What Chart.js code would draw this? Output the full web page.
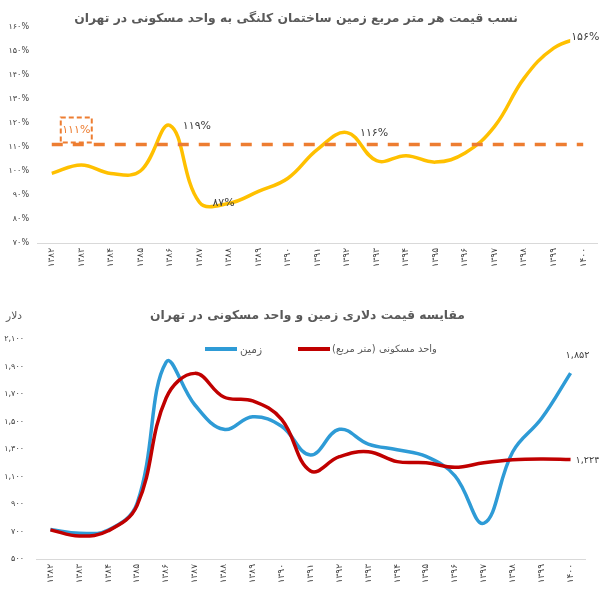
<!DOCTYPE html>
<html><head><meta charset="utf-8">
<script src="https://cdn.jsdelivr.net/npm/chart.js@4/dist/chart.umd.min.js"></script>
<style>
html,body{margin:0;padding:0;background:#fff;width:599px;height:595px;overflow:hidden;position:relative;}
canvas{position:absolute;left:0;}
#c1{top:0;}
#c2{top:290px;}
.t{position:absolute;white-space:nowrap;font-family:"DejaVu Sans";color:#595959;direction:rtl;line-height:1;transform:translate(-50%,-50%);}
.lg{position:absolute;height:4px;}
</style></head><body>
<canvas id="c1" width="599" height="290"></canvas>
<canvas id="c2" width="599" height="305"></canvas>
<div id="title1" class="t" style="font-weight:bold">نسب قیمت هر متر مربع زمین ساختمان کلنگی به واحد مسکونی در تهران</div>
<div id="title2" class="t" style="font-weight:bold">مقایسه قیمت دلاری زمین و واحد مسکونی در تهران</div>
<div id="unit" class="t">دلار</div>
<div id="lgl1" class="lg" style="background:#2E9BD6"></div>
<div id="lgt1" class="t">زمین</div>
<div id="lgl2" class="lg" style="background:#C00000"></div>
<div id="lgt2" class="t">واحد مسکونی (متر مربع)</div>
<script>
// ---------- data ----------
const years = ['۱۳۸۲','۱۳۸۳','۱۳۸۴','۱۳۸۵','۱۳۸۶','۱۳۸۷','۱۳۸۸','۱۳۸۹','۱۳۹۰','۱۳۹۱','۱۳۹۲','۱۳۹۳','۱۳۹۴','۱۳۹۵','۱۳۹۶','۱۳۹۷','۱۳۹۸','۱۳۹۹','۱۴۰۰'];
const ratio = [99, 102.5, 99, 100, 119, 87, 86.5, 91.5, 97, 109, 116, 104.3, 106.4, 103.7, 107.5, 118.6, 138.7, 151.2, 156];
const ratioBenchmark = 111;
const ratioLabelIdx = [4, 5, 10, 18];
const ratioTicks = [70, 80, 90, 100, 110, 120, 130, 140, 150, 160];
const land = [715, 688, 710, 905, 1930, 1620, 1443, 1535, 1465, 1256, 1443, 1336, 1295, 1246, 1105, 760, 1280, 1523, 1852];
const unitPrice = [712, 667, 705, 890, 1669, 1850, 1678, 1650, 1515, 1140, 1244, 1280, 1208, 1200, 1167, 1200, 1222, 1228, 1224];
const priceTicks = [500, 700, 900, 1100, 1300, 1500, 1700, 1900, 2100];
const landName = 'زمین';
const unitName = 'واحد مسکونی (متر مربع)';

// ---------- helpers ----------
const FA = '۰۱۲۳۴۵۶۷۸۹';
const toFa = s => String(s).replace(/\d/g, d => FA[d]);
const fmt = v => toFa(Number(v).toLocaleString('en-US'));
const FONT = '"DejaVu Sans"';
const mctx = document.createElement('canvas').getContext('2d');
function fitSize(text, w, weight) {
  mctx.font = (weight || 'normal') + ' 100px ' + FONT;
  return 100 * w / mctx.measureText(text).width;
}
function place(id, cx, cy, w, weight) {
  const el = document.getElementById(id);
  el.style.fontSize = fitSize(el.textContent, w, weight) + 'px';
  el.style.left = cx + 'px';
  el.style.top = cy + 'px';
}
place('title1', 296, 18, 444, 'bold');
place('title2', 307.5, 315, 315, 'bold');
place('unit', 14, 316, 16);
place('lgt1', 251, 349, 22);
place('lgt2', 384.5, 349, 105);
function line(id, x, y, w) { const e = document.getElementById(id); e.style.left = x + 'px'; e.style.top = (y - 2) + 'px'; e.style.width = w + 'px'; }
line('lgl1', 205, 349, 32);
line('lgl2', 298, 349, 32);

const xTickFont = {family: FONT, size: 9};
const yTickFont = {family: FONT, size: 8};
const labelFontSize = 11;
const numFontSize = fitSize('۱,۸۵۲', 24);

// ---------- top chart ----------
const overlay1 = {
  id: 'overlay1',
  afterDatasetsDraw(chart) {
    const {ctx, scales: {x, y}} = chart;
    const y0 = y.getPixelForValue(ratioBenchmark);
    ctx.save();
    ctx.strokeStyle = '#ED7D31';
    ctx.lineWidth = 3.5;
    ctx.setLineDash([11, 10]);
    ctx.beginPath();
    ctx.moveTo(x.getPixelForValue(0), y0);
    ctx.lineTo(x.getPixelForValue(years.length - 1), y0);
    ctx.stroke();
    // benchmark label box
    const bx = x.getPixelForValue(0) + 9, bw = 31, bh = 25, by = y0 - 2 - bh;
    ctx.lineWidth = 2;
    ctx.setLineDash([5, 3]);
    ctx.strokeRect(bx, by, bw, bh);
    ctx.setLineDash([]);
    ctx.fillStyle = '#ED7D31';
    ctx.font = labelFontSize + 'px ' + FONT;
    ctx.textAlign = 'center';
    ctx.textBaseline = 'middle';
    ctx.fillText(toFa(ratioBenchmark) + '%', bx + bw / 2, by + bh / 2);
    // data labels
    const meta = chart.getDatasetMeta(0);
    ctx.fillStyle = '#404040';
    ratioLabelIdx.forEach(i => {
      const p = meta.data[i];
      const txt = toFa(Math.round(ratio[i])) + '%';
      if (i === years.length - 1) {
        const w = ctx.measureText(txt).width;
        ctx.fillStyle = '#fff';
        ctx.fillRect(p.x - 13, p.y - 7, w + 2, 14);
        ctx.fillStyle = '#404040';
        ctx.textAlign = 'left';
        ctx.fillText(txt, p.x - 12, p.y + 1);
      } else {
        ctx.textAlign = 'left';
        ctx.fillText(txt, p.x + 13, p.y + 1);
      }
    });
    ctx.restore();
  }
};

new Chart(document.getElementById('c1'), {
  type: 'line',
  data: {labels: years, datasets: [{data: ratio, borderColor: '#FFC000', borderWidth: 3.5, tension: 0.4, pointRadius: 0, fill: false}]},
  options: {
    responsive: false, animation: false, devicePixelRatio: 1,
    layout: {padding: {top: 27, left: 0, right: 0, bottom: 0}},
    plugins: {legend: {display: false}, tooltip: {enabled: false}},
    scales: {
      x: {offset: true, grid: {display: false, drawTicks: false}, border: {color: '#d9d9d9', width: 1},
          ticks: {autoSkip: false, maxRotation: 90, minRotation: 90, padding: 5, color: '#404040', font: xTickFont},
          afterFit(s) { s.height = 47; }},
      y: {min: 70, max: 160, grid: {display: false, drawTicks: false}, border: {display: false},
          afterBuildTicks(s) { s.ticks = ratioTicks.map(v => ({value: v})); },
          ticks: {padding: 8, color: '#404040', font: yTickFont, callback: v => toFa(v) + '%'},
          afterFit(s) { s.width = 37; }}
    }
  },
  plugins: [overlay1]
});

// ---------- bottom chart ----------
const overlay2 = {
  id: 'overlay2',
  afterDatasetsDraw(chart) {
    const {ctx} = chart;
    const n = years.length - 1;
    const pb = chart.getDatasetMeta(0).data[n];
    const pr = chart.getDatasetMeta(1).data[n];
    ctx.save();
    ctx.font = numFontSize + 'px ' + FONT;
    ctx.fillStyle = '#404040';
    ctx.textBaseline = 'middle';
    ctx.textAlign = 'center';
    ctx.fillText(fmt(land[n]), pb.x + 7, pb.y - 18);
    ctx.textAlign = 'left';
    ctx.fillText(fmt(unitPrice[n]), pr.x + 5, pr.y + 1);
    ctx.restore();
  }
};

new Chart(document.getElementById('c2'), {
  type: 'line',
  data: {labels: years, datasets: [
    {label: landName, data: land, borderColor: '#2E9BD6', borderWidth: 3.5, tension: 0.4, pointRadius: 0, fill: false, order: 1},
    {label: unitName, data: unitPrice, borderColor: '#C00000', borderWidth: 3.5, tension: 0.4, pointRadius: 0, fill: false, order: 0}
  ]},
  options: {
    responsive: false, animation: false, devicePixelRatio: 1,
    layout: {padding: {top: 49, left: 0, right: 14, bottom: 0}},
    plugins: {legend: {display: false}, tooltip: {enabled: false}},
    scales: {
      x: {offset: true, grid: {display: false, drawTicks: false}, border: {color: '#d9d9d9', width: 1},
          ticks: {autoSkip: false, maxRotation: 90, minRotation: 90, padding: 5, color: '#404040', font: xTickFont},
          afterFit(s) { s.height = 36; }},
      y: {min: 500, max: 2100, grid: {display: false, drawTicks: false}, border: {display: false},
          afterBuildTicks(s) { s.ticks = priceTicks.map(v => ({value: v})); },
          ticks: {padding: 12, color: '#404040', font: yTickFont, callback: v => fmt(v)},
          afterFit(s) { s.width = 36; }}
    }
  },
  plugins: [overlay2]
});
</script>
</body></html>
